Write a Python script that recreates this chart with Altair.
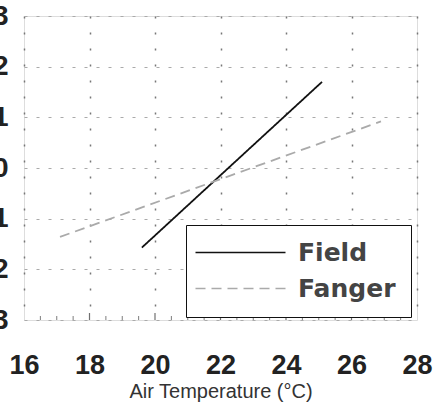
import altair as alt
import pandas as pd

series = ["Field", "Field", "Fanger", "Fanger"]
temps = [19.6, 25.1, 17.1, 26.9]
votes = [-1.57, 1.70, -1.36, 0.92]

x_ticks = [16, 18, 20, 22, 24, 26, 28]
y_ticks = [-3, -2, -1, 0, 1, 2, 3]
minor_ticks = [16.5, 17, 17.5, 18.5, 19, 19.5, 20.5, 21, 21.5, 22.5, 23, 23.5,
               24.5, 25, 25.5, 26.5, 27, 27.5]
major_ticks = [18, 20, 22, 24, 26]

df = pd.DataFrame({"series": series, "temp": temps, "vote": votes})
df_minor = pd.DataFrame({"t": minor_ticks, "v": [-3] * len(minor_ticks)})
df_major = pd.DataFrame({"t": major_ticks, "v": [-3] * len(major_ticks)})

xscale = alt.Scale(domain=[16, 28], nice=False, zero=False)
yscale = alt.Scale(domain=[-3, 3], nice=False, zero=False)

xaxis = alt.Axis(values=x_ticks, title="Air Temperature (°C)", format="d",
                 labelFont="Liberation Sans", labelFontWeight="bold", labelFontSize=27,
                 labelColor="#222", labelPadding=32, ticks=False, domain=False,
                 grid=True, gridColor="#777", gridDash=[2, 14], gridWidth=1.5,
                 titleFont="Liberation Sans", titleFontSize=20, titleFontWeight="normal",
                 titleColor="#333", titlePadding=3, labelFlush=False)
yaxis = alt.Axis(values=y_ticks, title=None, format="d",
                 labelFont="Liberation Sans", labelFontWeight="bold", labelFontSize=28,
                 labelColor="#222", labelPadding=16, ticks=False, domain=False,
                 grid=True, gridColor="#aaa", gridDash=[3, 9], gridWidth=1.2,
                 labelBaseline="middle")

lines = alt.Chart(df).mark_line(clip=True).encode(
    x=alt.X("temp:Q", scale=xscale, axis=xaxis),
    y=alt.Y("vote:Q", scale=yscale, axis=yaxis),
    color=alt.Color("series:N", scale=alt.Scale(domain=["Field", "Fanger"], range=["#111", "#aaa"]),
                    legend=alt.Legend(title=None, orient="none", legendX=162, legendY=209,
                                      fillColor="white", strokeColor="#111", padding=15,
                                      labelFont="DejaVu Sans", labelFontWeight="bold",
                                      labelFontSize=25, labelColor="#444", symbolSize=100,
                                      symbolStrokeWidth=1.6, symbolType="M-3.6,0H14.4",
                                      rowPadding=10, labelOffset=72)),
    strokeDash=alt.StrokeDash("series:N", scale=alt.Scale(domain=["Field", "Fanger"],
                                                          range=[[1, 0], [10, 6]]),
                              legend=None),
    strokeWidth=alt.value(1.8),
)

minor = alt.Chart(df_minor).mark_tick(orient="vertical", size=8, thickness=1, color="#444", clip=True).encode(
    x=alt.X("t:Q", scale=xscale), y=alt.Y("v:Q", scale=yscale))
major = alt.Chart(df_major).mark_tick(orient="vertical", size=14, thickness=1.2, color="#333", clip=True).encode(
    x=alt.X("t:Q", scale=xscale), y=alt.Y("v:Q", scale=yscale))

chart = alt.layer(minor, major, lines).properties(
    width=393, height=304,
    autosize=alt.AutoSizeParams(type="none"),
    padding={"left": 24, "top": 16, "right": 19, "bottom": 89},
).configure_view(stroke="#111", strokeWidth=2.2).configure(background="white")

chart.save("out.html", embed_options={"renderer": "svg", "actions": False})
